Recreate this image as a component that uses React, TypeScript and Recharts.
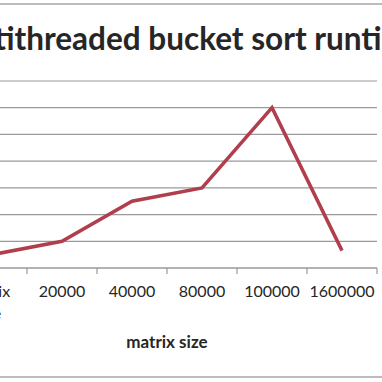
import { LineChart, Line, XAxis, YAxis, CartesianGrid } from "recharts"

const categories = ["matrix size", "20000", "40000", "80000", "100000", "1600000"]
const runtimes = [0.5, 1.0, 2.5, 3.0, 6.0, 0.65]
const yTicks = [0, 1, 2, 3, 4, 5, 6, 7]

const data = categories.map((size, i) => ({ size, runtime: runtimes[i] }))

// chart is shifted left so the y axis labels fall outside the crop, like the source image
const SHIFT = 150
const CHART_W = 532
const CHART_H = 382
const MARGIN = { top: 81, right: 5, bottom: 54, left: 47 }
const Y_AXIS_W = 60
const PLOT_W = CHART_W - MARGIN.left - MARGIN.right - Y_AXIS_W
const BAND = PLOT_W / categories.length

const AXIS_GRAY = "#9a9a9a"
const TEXT = "#262626"

function CategoryTick(props: any) {
  const { x, y, payload, index } = props
  const lines = String(payload.value).split(" ")
  return (
    <g>
      <line x1={x - BAND / 2} x2={x - BAND / 2} y1={y} y2={y + 6} stroke={AXIS_GRAY} strokeWidth={1.2} />
      {index === categories.length - 1 && (
        <line x1={x + BAND / 2} x2={x + BAND / 2} y1={y} y2={y + 6} stroke={AXIS_GRAY} strokeWidth={1.2} />
      )}
      <text x={x} y={y + 29} textAnchor="middle" fontSize={16} fill={TEXT}>
        {lines.map((l, i) => (
          <tspan key={i} x={index === 0 ? x - 4 : x} dy={i === 0 ? 0 : 22}>{l}</tspan>
        ))}
      </text>
    </g>
  )
}

export default function App() {
  return (
    <div
      style={{
        position: "fixed",
        top: 0,
        left: 0,
        width: 382,
        height: 382,
        overflow: "hidden",
        background: "#fff",
        fontFamily: "Lato, sans-serif",
      }}
    >
      <svg width={382} height={382} style={{ position: "absolute", left: 0, top: 0 }}>
        <line x1={0} x2={382} y1={4} y2={4} stroke="#a6a6a6" strokeWidth={1.5} />
        <line x1={0} x2={382} y1={377} y2={377} stroke="#a6a6a6" strokeWidth={1.5} />
        <text x={182} y={50} textAnchor="middle" fontSize={31.5} fontWeight="bold" fill={TEXT}>
          Multithreaded bucket sort runtime
        </text>
      </svg>
      <div style={{ position: "absolute", left: -SHIFT, top: 0 }}>
        <LineChart width={CHART_W} height={CHART_H} data={data} margin={MARGIN}>
          <CartesianGrid vertical={false} stroke={AXIS_GRAY} strokeWidth={1.2} />
          <XAxis
            dataKey="size"
            scale="band"
            interval={0}
            height={60}
            tickSize={0}
            tickMargin={0}
            tickLine={false}
            axisLine={{ stroke: AXIS_GRAY, strokeWidth: 1.2 }}
            tick={<CategoryTick />}
            label={{ value: "matrix size", position: "bottom", offset: 8, fill: TEXT, fontSize: 17, fontWeight: "bold" }}
          />
          <YAxis
            width={Y_AXIS_W}
            domain={[0, 7]}
            ticks={yTicks}
            axisLine={false}
            tickLine={false}
            tick={{ fill: TEXT, fontSize: 16 }}
          />
          <Line
            type="linear"
            dataKey="runtime"
            stroke="#b03e4c"
            strokeWidth={3.5}
            dot={false}
            isAnimationActive={false}
          />
        </LineChart>
      </div>
    </div>
  )
}
